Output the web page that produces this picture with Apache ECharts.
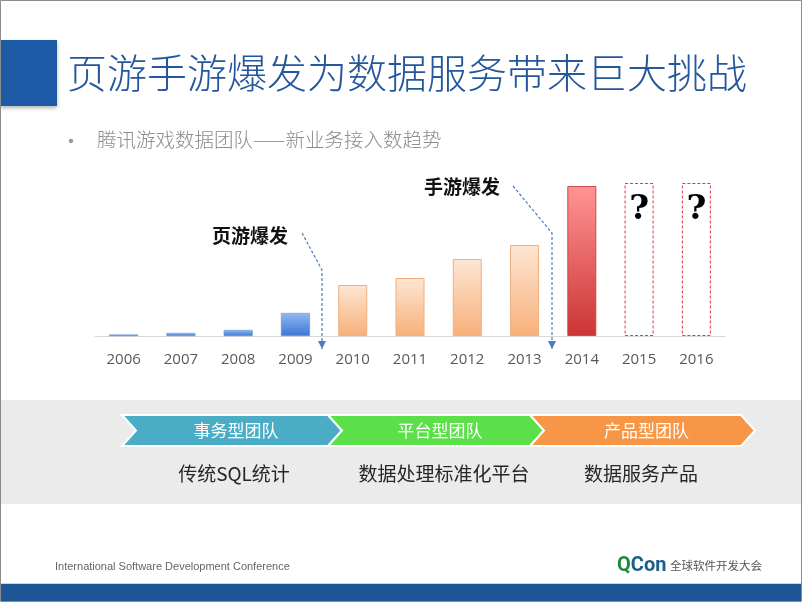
<!DOCTYPE html>
<html>
<head>
<meta charset="utf-8">
<script src="https://cdn.jsdelivr.net/npm/echarts@6/dist/echarts.min.js"></script>
<style>
  html, body { margin: 0; padding: 0; background: #fff; }
  #chartContainer { width: 802px; height: 602px; }
</style>
</head>
<body>
<div id="chartContainer"></div>
<script>
// 新业务接入数（按柱高估读，单位任意）
const years = ['2006', '2007', '2008', '2009', '2010', '2011', '2012', '2013', '2014', '2015', '2016'];
const bizCount = [1.5, 3, 6, 23, 51, 58, 77, 91, 150, null, null];
const futureGuess = [null, null, null, null, null, null, null, null, null, 153, 153];
const phaseNames = ['事务型团队', '平台型团队', '产品型团队'];
const phaseResults = ['传统SQL统计', '数据处理标准化平台', '数据服务产品'];

const CJK = '"Noto Sans CJK SC", "Noto Sans", sans-serif';

let chart = null;

document.addEventListener('DOMContentLoaded', function() {
    chart = echarts.init(document.getElementById('chartContainer'));
    chart.setOption(buildOption());
});

function grad(top, bottom) {
    return new echarts.graphic.LinearGradient(0, 0, 0, 1, [
        { offset: 0, color: top },
        { offset: 1, color: bottom }
    ]);
}

function barStyle(i) {
    if (i <= 3) return { color: grad('#92b8f0', '#3b76d4'), borderColor: '#5b8fdc', borderWidth: 0.5 };
    if (i <= 7) return { color: grad('#fde6d4', '#f8b07a'), borderColor: '#f2ae7c', borderWidth: 1 };
    return { color: grad('#ff9494', '#cc3434'), borderColor: '#c94a4a', borderWidth: 1 };
}

function chevron(x0, x1, color, name) {
    const d = 14, top = 415, bot = 446, mid = (top + bot) / 2;
    return {
        type: 'polygon',
        shape: { points: [[x0, top], [x1, top], [x1 + d, mid], [x1, bot], [x0, bot], [x0 + d, mid]] },
        style: { fill: color, stroke: '#fff', lineWidth: 2 },
        textContent: { style: { text: name, fill: '#fff', fontSize: 17, fontFamily: CJK } },
        textConfig: { position: 'inside', offset: [4, 0] }
    };
}

function arrow(points) {
    const end = points[points.length - 1];
    return [
        {
            type: 'polyline',
            shape: { points: points },
            style: { stroke: '#4f7cbf', lineWidth: 1.2, lineDash: [3, 2], fill: null }
        },
        {
            type: 'polygon',
            shape: { points: [[end[0] - 4, end[1] - 8], [end[0] + 4, end[1] - 8], [end[0], end[1]]] },
            style: { fill: '#4f7cbf' }
        }
    ];
}

function buildOption() {
    const graphics = [
        { type: 'rect', shape: { x: 0.5, y: 0.5, width: 801, height: 601 }, style: { fill: null, stroke: '#8c8c8c', lineWidth: 1 }, z: 10 },
        { type: 'rect', shape: { x: 0, y: 40, width: 57, height: 66 }, style: { fill: '#1c5aa6', shadowBlur: 4, shadowColor: 'rgba(0,0,0,0.3)', shadowOffsetY: 2 } },
        { type: 'text', style: { text: '页游手游爆发为数据服务带来巨大挑战', x: 67, y: 73, fontSize: 40, fontWeight: 300, fill: '#24579c', fontFamily: CJK, verticalAlign: 'middle' } },
        { type: 'circle', shape: { cx: 71, cy: 141, r: 2.2 }, style: { fill: '#9a9a9a' } },
        { type: 'text', style: { text: '腾讯游戏数据团队——新业务接入数趋势', x: 97, y: 140, fontSize: 19.5, fontWeight: 300, fill: '#8c8c8c', fontFamily: CJK, verticalAlign: 'middle' } },
        { type: 'text', style: { text: '页游爆发', x: 212, y: 236, fontSize: 19, fontWeight: 'bold', fill: '#111', fontFamily: CJK, verticalAlign: 'middle' } },
        { type: 'text', style: { text: '手游爆发', x: 424, y: 187, fontSize: 19, fontWeight: 'bold', fill: '#111', fontFamily: CJK, verticalAlign: 'middle' } },
        ...arrow([[302, 233], [322, 270], [322, 349]]),
        ...arrow([[513, 186], [552, 233], [552, 349]]),
        { type: 'rect', shape: { x: 1, y: 400, width: 800, height: 104 }, style: { fill: '#ebebeb' }, z: -1 },
        chevron(122, 328, '#4bacc6', phaseNames[0]),
        chevron(328, 530, '#5ce04a', phaseNames[1]),
        chevron(530, 741, '#f79646', phaseNames[2]),
        { type: 'text', style: { text: phaseResults[0], x: 234, y: 474, fontSize: 19, fill: '#262626', fontFamily: CJK, align: 'center', verticalAlign: 'middle' } },
        { type: 'text', style: { text: phaseResults[1], x: 444, y: 474, fontSize: 19, fill: '#262626', fontFamily: CJK, align: 'center', verticalAlign: 'middle' } },
        { type: 'text', style: { text: phaseResults[2], x: 641, y: 474, fontSize: 19, fill: '#262626', fontFamily: CJK, align: 'center', verticalAlign: 'middle' } },
        { type: 'text', style: { text: 'International Software Development Conference', x: 55, y: 567, fontSize: 11, fill: '#666', fontFamily: '"Liberation Sans", sans-serif', verticalAlign: 'middle' } },
        {
            type: 'text',
            style: {
                text: '{q|Q}{c|Con}', x: 617, y: 566, verticalAlign: 'middle',
                rich: {
                    q: { fontSize: 20, fontWeight: 'bold', fill: '#1b8a3e', fontFamily: 'Roboto, sans-serif' },
                    c: { fontSize: 20, fontWeight: 'bold', fill: '#1a5f8a', fontFamily: 'Roboto, sans-serif' }
                }
            }
        },
        { type: 'text', style: { text: '全球软件开发大会', x: 670, y: 566, fontSize: 11.5, fill: '#555', fontFamily: CJK, verticalAlign: 'middle' } },
        { type: 'rect', shape: { x: 1, y: 583, width: 800, height: 1 }, style: { fill: '#c9d6e8' } },
        { type: 'rect', shape: { x: 1, y: 584, width: 800, height: 18 }, style: { fill: '#1d5596' } }
    ];

    return {
        animation: false,
        backgroundColor: '#fff',
        grid: { left: 95, right: 77, top: 180, bottom: 266 },
        xAxis: {
            type: 'category',
            data: years,
            axisLine: { lineStyle: { color: '#d9d9d9', width: 1 } },
            axisTick: { show: false },
            axisLabel: { color: '#595959', fontSize: 15, margin: 16, fontFamily: '"Open Sans", sans-serif' }
        },
        yAxis: {
            type: 'value', min: 0, max: 156,
            show: false,
            splitLine: { show: false }
        },
        series: [
            {
                type: 'bar',
                data: bizCount.map((v, i) => ({ value: v, itemStyle: barStyle(i) })),
                barWidth: 29,
                z: 3
            },
            {
                type: 'bar',
                data: futureGuess,
                barWidth: 29,
                barGap: '-100%',
                itemStyle: { color: 'rgba(0,0,0,0)', borderColor: '#e0393e', borderWidth: 1, borderType: [3, 2] },
                label: {
                    show: true, position: 'insideTop', distance: 10, formatter: '?',
                    fontSize: 34, fontWeight: 'bold', color: '#000', fontFamily: '"DejaVu Serif", "Liberation Serif", serif'
                },
                z: 2
            }
        ],
        graphic: graphics
    };
}
</script>
</body>
</html>
